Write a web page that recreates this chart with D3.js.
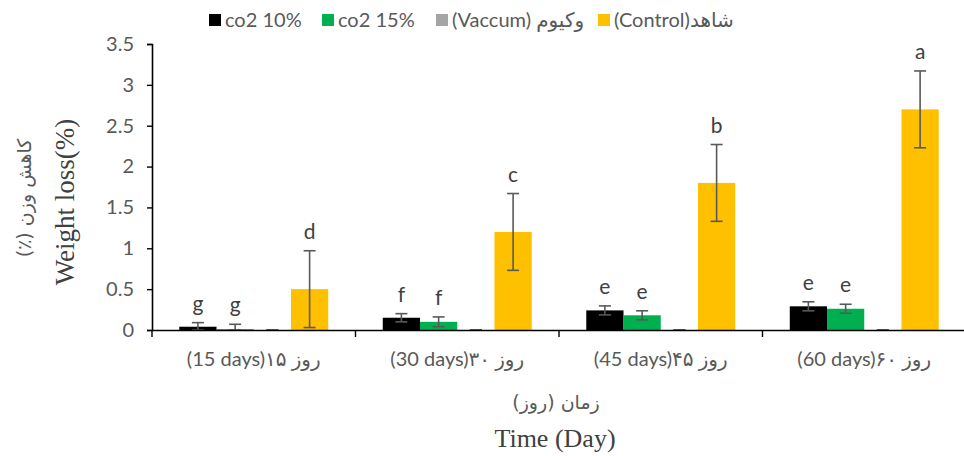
<!DOCTYPE html>
<html>
<head>
<meta charset="utf-8">
<script src="https://cdn.jsdelivr.net/npm/d3@7"></script>
<style>
  body { margin: 0; background: #fff; }
  svg { display: block; font-family: Lato, "DejaVu Sans", sans-serif; }
</style>
</head>
<body>
<div id="chart"></div>
<script>
const categories = ["(15 days)روز ۱۵", "(30 days)روز ۳۰", "(45 days)روز ۴۵", "(60 days)روز ۶۰"]
const seriesNames = ["co2 10%", "co2 15%", "(Vaccum) وکیوم", "(Control)شاهد"]
const seriesColors = ["#000000", "#00b050", "#a5a5a5", "#ffc000"]
const co2_10 = [0.04, 0.15, 0.24, 0.29]
const co2_15 = [0.01, 0.10, 0.18, 0.26]
const vaccum = [0, 0, 0, 0]
const control = [0.50, 1.20, 1.80, 2.70]
const err_10 = [0.05, 0.05, 0.055, 0.055]
const err_15 = [0.06, 0.06, 0.055, 0.055]
const err_vac = [0, 0, 0, 0]
const err_ctrl = [0.47, 0.47, 0.47, 0.47]
const letters_10 = ["g", "f", "e", "e"]
const letters_15 = ["g", "f", "e", "e"]
const letters_vac = ["", "", "", ""]
const letters_ctrl = ["d", "c", "b", "a"]
const yTicks = [0, 0.5, 1, 1.5, 2, 2.5, 3, 3.5]

const W = 964, H = 456
const margin = { left: 152, right: -2, top: 44, bottom: 126 }

const values = [co2_10, co2_15, vaccum, control],
    errors = [err_10, err_15, err_vac, err_ctrl],
    letters = [letters_10, letters_15, letters_vac, letters_ctrl]

// flatten into one row per bar
const bars = []
categories.forEach((c, ci) => {
    seriesNames.forEach((s, si) => {
        bars.push({ cat: c, s, si, v: values[si][ci], e: errors[si][ci], l: letters[si][ci] })
    })
})

const svg = d3.select("#chart").append("svg").attr("width", W).attr("height", H)

const x0 = d3.scaleBand().domain(categories)
    .range([margin.left, W - margin.right])
    .paddingInner(0.268).paddingOuter(0.134)
const x1 = d3.scaleBand().domain(seriesNames).range([0, x0.bandwidth()])
const y = d3.scaleLinear().domain([0, 3.5]).range([H - margin.bottom, margin.top])
const step = x0.step()

// bars
const g = svg.append("g")
g.selectAll("rect.bar").data(bars).enter().append("rect").attr("class", "bar")
    .attr("x", d => x0(d.cat) + x1(d.s))
    .attr("width", x1.bandwidth())
    .attr("y", d => y(d.v))
    .attr("height", d => y(0) - y(d.v))
    .attr("fill", d => seriesColors[d.si])

// error bars
const eb = g.selectAll("g.err").data(bars).enter().append("g").attr("class", "err")
    .attr("stroke", "#595959").attr("stroke-width", 1.6)
eb.each(function (d) {
    const cx = x0(d.cat) + x1(d.s) + x1.bandwidth() / 2,
        sel = d3.select(this)
    sel.append("line").attr("x1", cx).attr("x2", cx).attr("y1", y(d.v + d.e)).attr("y2", y(Math.max(0, d.v - d.e)))
    sel.append("line").attr("x1", cx - 6).attr("x2", cx + 6).attr("y1", y(d.v + d.e)).attr("y2", y(d.v + d.e))
    sel.append("line").attr("x1", cx - 6).attr("x2", cx + 6).attr("y1", y(Math.max(0, d.v - d.e))).attr("y2", y(Math.max(0, d.v - d.e)))
})

// significance letters
g.selectAll("text.letter").data(bars.filter(d => d.l)).enter().append("text").attr("class", "letter")
    .attr("x", d => x0(d.cat) + x1(d.s) + x1.bandwidth() / 2)
    .attr("y", d => y(d.v + d.e) - 12)
    .attr("text-anchor", "middle")
    .attr("font-size", 21).attr("fill", "#404040")
    .text(d => d.l)

// y axis
const yAxis = svg.append("g").attr("transform", `translate(${margin.left},0)`)
    .call(d3.axisLeft(y).tickValues(yTicks).tickFormat(d3.format("")).tickSize(5).tickPadding(13))
yAxis.select(".domain").attr("stroke", "#000").attr("stroke-width", 1.6)
yAxis.selectAll(".tick line").attr("stroke", "#000").attr("stroke-width", 1.4)
yAxis.selectAll(".tick text").attr("font-size", 20).attr("fill", "#595959").attr("font-family", "Lato, sans-serif")

// x axis
const xAxis = svg.append("g").attr("transform", `translate(0,${y(0)})`)
    .call(d3.axisBottom(x0).tickSize(0).tickPadding(22))
xAxis.select(".domain").attr("stroke", "#000").attr("stroke-width", 1.6)
xAxis.selectAll(".tick text").attr("font-size", 20).attr("fill", "#595959")
    .attr("font-family", "Lato, 'DejaVu Sans', sans-serif")
xAxis.selectAll("line.bound").data(categories).enter().append("line").attr("class", "bound")
    .attr("x1", d => x0(d) - x0.paddingOuter() * step).attr("x2", d => x0(d) - x0.paddingOuter() * step)
    .attr("y1", 0).attr("y2", 7).attr("stroke", "#000").attr("stroke-width", 1.4)

// axis titles
svg.append("text").attr("transform", "translate(74,202) rotate(-90)")
    .attr("text-anchor", "middle").attr("font-family", "'Liberation Serif', serif")
    .attr("font-size", 27).attr("fill", "#404040").text("Weight loss(%)")
svg.append("text").attr("transform", "translate(31,198) rotate(-90)")
    .attr("text-anchor", "middle").attr("direction", "rtl").attr("font-family", "'DejaVu Sans', sans-serif")
    .attr("font-size", 19).attr("fill", "#595959").text("کاهش وزن (٪)")
svg.append("text").attr("x", 556).attr("y", 409)
    .attr("text-anchor", "middle").attr("direction", "rtl").attr("font-family", "'DejaVu Sans', sans-serif")
    .attr("font-size", 19).attr("fill", "#595959").text("زمان (روز)")
svg.append("text").attr("x", 555).attr("y", 447)
    .attr("text-anchor", "middle").attr("font-family", "'Liberation Serif', serif")
    .attr("font-size", 26).attr("fill", "#404040").text("Time (Day)")

// legend
const legendX = [209, 322, 436, 598]
const lg = svg.selectAll("g.legend").data(seriesNames).enter().append("g").attr("class", "legend")
    .attr("transform", (d, i) => `translate(${legendX[i]},14)`)
lg.append("rect").attr("width", 12).attr("height", 12).attr("fill", (d, i) => seriesColors[i])
lg.append("text").attr("x", 16).attr("y", 13).attr("font-size", 20).attr("fill", "#595959")
    .attr("font-family", "Lato, 'DejaVu Sans', sans-serif").text(d => d)
</script>
</body>
</html>
